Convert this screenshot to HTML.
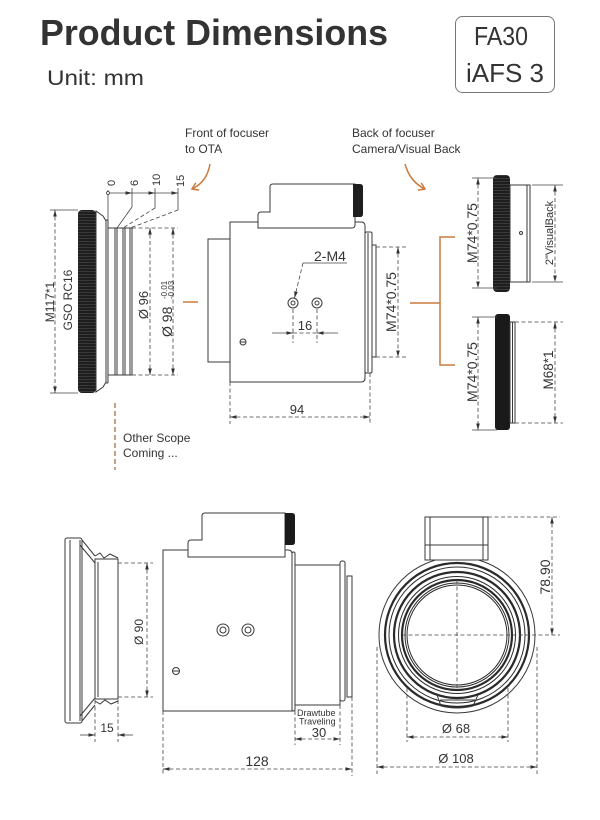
<!DOCTYPE html>
<html><head><meta charset="utf-8"><style>
html,body{margin:0;padding:0;background:#fff;}
svg{display:block;}
text{font-family:"Liberation Sans",sans-serif;fill:#333;}
.l{stroke:#3a3a3a;stroke-width:1;fill:none;}
.w{stroke:#3a3a3a;stroke-width:1;fill:#fff;}
.d{stroke:#444;stroke-width:0.8;fill:none;stroke-dasharray:4 2.5;}
.t{stroke:#444;stroke-width:0.8;fill:none;}
.o{stroke:#cc7a3e;stroke-width:1.5;fill:none;}
.th{stroke:#2a2a2a;fill:none;}
</style></head><body>
<svg width="600" height="820" viewBox="0 0 600 820" xmlns="http://www.w3.org/2000/svg">
<defs>
<marker id="ae" viewBox="-8 -3 9 6" markerWidth="9" markerHeight="6" refX="0" refY="0" orient="auto" markerUnits="userSpaceOnUse"><path d="M0,0 L-6.5,-1.8 L-6.5,1.8 Z" fill="#333"/></marker>
<marker id="as" viewBox="-1 -3 9 6" markerWidth="9" markerHeight="6" refX="0" refY="0" orient="auto" markerUnits="userSpaceOnUse"><path d="M0,0 L6.5,-1.8 L6.5,1.8 Z" fill="#333"/></marker>
<marker id="oa" viewBox="-8 -5 10 10" markerWidth="10" markerHeight="10" refX="0" refY="0" orient="auto" markerUnits="userSpaceOnUse"><path d="M-6,-4 L0,0 L-6,4" fill="none" stroke="#cc7a3e" stroke-width="1.5"/></marker>
<pattern id="kn" patternUnits="userSpaceOnUse" width="6" height="3"><rect width="6" height="3" fill="#1e1e1e"/><line x1="0" y1="1.5" x2="6" y2="1.5" stroke="#4a4a4a" stroke-width="0.6"/></pattern>
</defs>

<!-- Header -->
<text x="40" y="45" font-size="36" font-weight="bold" fill="#3d3d3d" textLength="348" lengthAdjust="spacingAndGlyphs">Product Dimensions</text>
<text x="47" y="85" font-size="21" fill="#555" textLength="97" lengthAdjust="spacingAndGlyphs">Unit: mm</text>
<rect x="455.5" y="16.5" width="99" height="76" rx="7" fill="none" stroke="#777"/>
<text x="474" y="45" font-size="26" textLength="54" lengthAdjust="spacingAndGlyphs">FA30</text>
<text x="505" y="82" font-size="26" text-anchor="middle">iAFS 3</text>

<!-- Captions -->
<text x="185" y="137" font-size="12" fill="#555">Front of focuser</text>
<text x="185" y="153" font-size="12" fill="#555">to OTA</text>
<text x="352" y="137" font-size="12" fill="#555">Back of focuser</text>
<text x="352" y="153" font-size="12" fill="#555">Camera/Visual Back</text>
<path class="o" d="M210,164 Q207,182 192,189" marker-end="url(#oa)"/>
<path class="o" d="M405,164 Q410,182 425,189" marker-end="url(#oa)"/>

<!-- ===== Top-left flange ===== -->
<rect x="78" y="210" width="18" height="183" rx="4" fill="url(#kn)"/>
<path class="w" d="M96,211 L103,216 L106,221 V382 L103,387 L96,392 Z"/>
<line class="l" x1="108" y1="220" x2="108" y2="383"/>
<line class="l" x1="106" y1="220" x2="108" y2="220"/>
<line class="l" x1="106" y1="383" x2="108" y2="383"/>
<rect class="w" x="108" y="228" width="24" height="147"/>
<line class="l" x1="115" y1="228" x2="115" y2="375"/>
<line class="l" x1="117" y1="228" x2="117" y2="375"/>
<line class="l" x1="123" y1="228" x2="123" y2="375"/>
<line class="l" x1="125" y1="228" x2="125" y2="375"/>
<line class="l" x1="130" y1="228" x2="130" y2="375"/>

<!-- M117 dim -->
<line class="t" x1="50" y1="210" x2="78" y2="210"/>
<line class="t" x1="50" y1="393" x2="78" y2="393"/>
<line class="d" x1="55" y1="210" x2="55" y2="393" marker-start="url(#as)" marker-end="url(#ae)"/>
<text transform="translate(54,302) rotate(-90)" text-anchor="middle" font-size="12">M117*1</text>
<text transform="translate(72,300) rotate(-90)" text-anchor="middle" font-size="12">GSO RC16</text>

<!-- 0/6/10/15 dim -->
<line class="t" x1="108" y1="190" x2="108" y2="220"/>
<circle cx="108" cy="193" r="1.5" fill="#fff" stroke="#333" stroke-width="0.8"/>
<line class="t" x1="132" y1="188" x2="132" y2="207"/>
<line class="t" x1="155" y1="188" x2="155" y2="208"/>
<line class="t" x1="178" y1="188" x2="178" y2="210"/>
<line class="t" x1="110" y1="193" x2="132" y2="193" marker-end="url(#ae)"/>
<line class="t" x1="132" y1="193" x2="155" y2="193" marker-end="url(#ae)"/>
<line class="t" x1="155" y1="193" x2="178" y2="193" marker-end="url(#ae)"/>
<line class="t" x1="132" y1="207" x2="117" y2="228"/>
<line class="d" x1="155" y1="208" x2="123" y2="228"/>
<line class="d" x1="178" y1="210" x2="130" y2="228"/>
<text transform="translate(115,186) rotate(-90)" font-size="11">0</text>
<text transform="translate(138,186) rotate(-90)" font-size="11">6</text>
<text transform="translate(160,186) rotate(-90)" font-size="11">10</text>
<text transform="translate(184,187) rotate(-90)" font-size="11">15</text>

<!-- Ø96 / Ø98 -->
<line class="d" x1="132" y1="228" x2="178" y2="228"/>
<line class="d" x1="132" y1="375" x2="178" y2="375"/>
<line class="d" x1="150" y1="228" x2="150" y2="375" marker-start="url(#as)" marker-end="url(#ae)"/>
<line class="d" x1="173" y1="228" x2="173" y2="375" marker-start="url(#as)" marker-end="url(#ae)"/>
<text transform="translate(148,305) rotate(-90)" text-anchor="middle" font-size="13">Ø 96</text>
<g transform="translate(172,337) rotate(-90)">
<text x="0" y="0" font-size="14">Ø 98</text>
<text x="38" y="-5" font-size="8">-0.01</text>
<text x="38" y="2" font-size="8">-0.03</text>
</g>
<line class="o" x1="183" y1="302" x2="198" y2="302"/>

<!-- Other scope -->
<line x1="115" y1="403" x2="115" y2="470" stroke="#b8825a" stroke-width="1.5" stroke-dasharray="5 3"/>
<text x="123" y="442" font-size="12" fill="#666">Other Scope</text>
<text x="123" y="457" font-size="12" fill="#666">Coming ...</text>

<!-- ===== Top center body ===== -->
<rect class="w" x="208" y="239" width="22" height="123"/>
<path class="w" d="M230,222 H361 Q365,222 365,226 V378 Q365,382 361,382 H230 Z"/>
<path class="w" d="M258,228 V215 Q258,212 261,212 H270 V187 Q270,184 273,184 H355 V225 Q355,228 352,228 Z"/>
<path d="M353,184 H360 Q363,184 363,187 V214 Q363,217 360,217 H353 Z" fill="#1e1e1e"/>
<rect class="w" x="365" y="232" width="7" height="141" rx="1.5"/>
<line class="l" x1="368" y1="233" x2="368" y2="372"/>
<rect class="w" x="372" y="245" width="4" height="112"/>

<line class="d" x1="376" y1="247" x2="408" y2="247"/>
<line class="d" x1="376" y1="357" x2="408" y2="357"/>
<line class="d" x1="398" y1="247" x2="398" y2="357" marker-start="url(#as)" marker-end="url(#ae)"/>
<text transform="translate(396,302) rotate(-90)" text-anchor="middle" font-size="14">M74*0.75</text>

<!-- holes -->
<circle class="l" cx="293" cy="303" r="5"/><circle class="l" cx="293" cy="303" r="2"/>
<circle class="l" cx="317" cy="303" r="5"/><circle class="l" cx="317" cy="303" r="2"/>
<line class="t" x1="303" y1="263" x2="347" y2="263"/>
<line class="d" x1="303" y1="263" x2="294.5" y2="298" marker-end="url(#ae)"/>
<text x="314" y="261" font-size="14">2-M4</text>
<line class="d" x1="293" y1="309" x2="293" y2="343"/>
<line class="d" x1="317" y1="309" x2="317" y2="343"/>
<line class="t" x1="272" y1="333" x2="293" y2="333" marker-end="url(#ae)"/>
<line class="t" x1="338" y1="333" x2="317" y2="333" marker-end="url(#ae)"/>
<line class="d" x1="293" y1="333" x2="317" y2="333"/>
<text x="305" y="330" font-size="13" text-anchor="middle">16</text>
<circle class="l" cx="243" cy="342" r="3"/>
<line class="l" x1="240.5" y1="342" x2="245.5" y2="342"/>

<!-- 94 -->
<line class="d" x1="230" y1="382" x2="230" y2="424"/>
<line class="d" x1="370" y1="373" x2="370" y2="424"/>
<line class="d" x1="230" y1="417" x2="370" y2="417" marker-start="url(#as)" marker-end="url(#ae)"/>
<text x="297" y="414" font-size="13" text-anchor="middle">94</text>

<!-- orange bracket -->
<line class="o" x1="410" y1="303" x2="440" y2="303"/>
<path class="o" d="M455,237 H440 V365 H455"/>

<!-- ===== Right parts ===== -->
<rect x="493" y="175" width="17" height="117" rx="4" fill="url(#kn)"/>
<rect class="w" x="510" y="185" width="20" height="97"/>
<line class="l" x1="527" y1="185" x2="527" y2="282"/>
<circle class="l" cx="521" cy="233" r="1.5"/>
<line class="t" x1="472" y1="178" x2="497" y2="178"/>
<line class="t" x1="472" y1="288" x2="497" y2="288"/>
<line class="d" x1="478" y1="178" x2="478" y2="288" marker-start="url(#as)" marker-end="url(#ae)"/>
<text transform="translate(477,233) rotate(-90)" text-anchor="middle" font-size="14">M74*0.75</text>
<line class="t" x1="532" y1="185" x2="563" y2="185"/>
<line class="t" x1="532" y1="282" x2="563" y2="282"/>
<line class="d" x1="555" y1="185" x2="555" y2="282" marker-start="url(#as)" marker-end="url(#ae)"/>
<text transform="translate(553,233) rotate(-90)" text-anchor="middle" font-size="11">2"VisualBack</text>

<rect x="495" y="314" width="15" height="116" rx="3" fill="#1a1a1a"/>
<rect class="w" x="510" y="322" width="5" height="101"/>
<line class="l" x1="512.5" y1="322" x2="512.5" y2="423"/>
<line class="t" x1="472" y1="317" x2="497" y2="317"/>
<line class="t" x1="472" y1="430" x2="497" y2="430"/>
<line class="d" x1="478" y1="317" x2="478" y2="430" marker-start="url(#as)" marker-end="url(#ae)"/>
<text transform="translate(477,372) rotate(-90)" text-anchor="middle" font-size="14">M74*0.75</text>
<line class="d" x1="515" y1="322" x2="563" y2="322"/>
<line class="d" x1="515" y1="423" x2="563" y2="423"/>
<line class="d" x1="555" y1="322" x2="555" y2="423" marker-start="url(#as)" marker-end="url(#ae)"/>
<text transform="translate(553,370) rotate(-90)" text-anchor="middle" font-size="13.5">M68*1</text>

<!-- ===== Bottom-left side view ===== -->
<rect class="w" x="65" y="538" width="17" height="185" rx="2"/>
<line class="l" x1="70" y1="540" x2="70" y2="721"/>
<line class="l" x1="80" y1="540" x2="80" y2="721"/>
<path class="l" d="M82,540 L95,556"/>
<path class="l" d="M80,545 L95,563"/>
<path class="l" d="M82,721 L95,705"/>
<path class="l" d="M80,716 L95,698"/>
<rect class="w" x="95" y="559" width="23" height="140"/>
<line class="l" x1="98" y1="562" x2="98" y2="697"/>
<path class="l" d="M95,556 L100,553 L104,558 L110,554 L118,558"/>
<path class="l" d="M95,701 L100,704 L105,700 L111,704 L118,701"/>

<line class="d" x1="118" y1="563" x2="153" y2="563"/>
<line class="d" x1="118" y1="697" x2="153" y2="697"/>
<line class="d" x1="147" y1="563" x2="147" y2="697" marker-start="url(#as)" marker-end="url(#ae)"/>
<text transform="translate(143,632) rotate(-90)" text-anchor="middle" font-size="12">Ø 90</text>

<line class="d" x1="95" y1="700" x2="95" y2="742"/>
<line class="d" x1="118" y1="700" x2="118" y2="742"/>
<line class="t" x1="80" y1="735" x2="95" y2="735" marker-end="url(#ae)"/>
<line class="t" x1="133" y1="735" x2="118" y2="735" marker-end="url(#ae)"/>
<text x="107" y="732" font-size="12" text-anchor="middle">15</text>

<path class="w" d="M163,550 H288 Q292,550 292,554 V711 H163 Z"/>
<rect class="w" x="292" y="552" width="3" height="159" rx="1.5"/>
<path class="w" d="M188,557 V543 Q188,540 191,540 H202 V516 Q202,513 205,513 H285 V557 Z"/>
<path d="M285,513 H292 Q295,513 295,516 V542 Q295,545 292,545 H285 Z" fill="#1a1a1a"/>
<circle class="l" cx="223" cy="630" r="6"/><circle class="l" cx="223" cy="630" r="3"/>
<circle class="l" cx="248" cy="630" r="6"/><circle class="l" cx="248" cy="630" r="3"/>
<circle class="l" cx="176" cy="671" r="3.5"/>
<line class="l" x1="173" y1="671" x2="179" y2="671"/>

<rect class="w" x="295" y="565" width="45" height="140"/>
<rect class="w" x="340" y="561" width="5" height="140" rx="2"/>
<rect class="w" x="347" y="576" width="5" height="121"/>

<text x="297" y="716" font-size="9" fill="#444">Drawtube</text>
<text x="299" y="724.5" font-size="9" fill="#444">Traveling</text>
<line class="d" x1="295" y1="711" x2="295" y2="745"/>
<line class="d" x1="340" y1="705" x2="340" y2="745"/>
<line class="d" x1="295" y1="739" x2="340" y2="739" marker-start="url(#as)" marker-end="url(#ae)"/>
<text x="319" y="737" font-size="13" text-anchor="middle">30</text>

<line class="d" x1="163" y1="711" x2="163" y2="776"/>
<line class="d" x1="352" y1="697" x2="352" y2="776"/>
<line class="d" x1="163" y1="769" x2="352" y2="769" marker-start="url(#as)" marker-end="url(#ae)"/>
<text x="257" y="766" font-size="14" text-anchor="middle">128</text>

<!-- ===== Bottom-right end view ===== -->
<circle class="w" cx="457" cy="635" r="78"/>
<rect class="w" x="425" y="517" width="63" height="43"/>
<line class="l" x1="430" y1="517" x2="430" y2="560"/>
<line class="l" x1="483" y1="517" x2="483" y2="560"/>
<line class="l" x1="425" y1="545" x2="488" y2="545"/>
<circle class="th" cx="457" cy="635" r="72" stroke-width="2.2"/>
<circle class="th" cx="457" cy="635" r="68" stroke-width="1"/>
<circle class="th" cx="457" cy="635" r="63" stroke-width="2.2"/>
<circle class="th" cx="457" cy="635" r="58.5" stroke-width="1"/>
<circle class="th" cx="457" cy="635" r="55" stroke-width="2.2"/>
<circle class="th" cx="457" cy="635" r="52" stroke-width="1"/>
<circle class="th" cx="457" cy="635" r="50" stroke-width="1"/>
<path class="l" d="M437,695 L441,706 Q457,710 473,706 L478,695"/>
<line class="l" x1="440" y1="700" x2="475" y2="700"/>

<line class="d" x1="402" y1="635" x2="560" y2="635"/>
<line class="d" x1="457" y1="580" x2="457" y2="690"/>
<line class="d" x1="488" y1="517" x2="560" y2="517"/>
<line class="d" x1="552" y1="517" x2="552" y2="635" marker-start="url(#as)" marker-end="url(#ae)"/>
<text transform="translate(550,577) rotate(-90)" text-anchor="middle" font-size="14">78.90</text>

<line class="d" x1="407" y1="688" x2="407" y2="742"/>
<line class="d" x1="508" y1="688" x2="508" y2="742"/>
<line class="d" x1="407" y1="737" x2="508" y2="737" marker-start="url(#as)" marker-end="url(#ae)"/>
<text x="456" y="733" font-size="13" text-anchor="middle">Ø 68</text>

<line class="d" x1="377" y1="647" x2="377" y2="774"/>
<line class="d" x1="537" y1="647" x2="537" y2="774"/>
<line class="d" x1="377" y1="767" x2="537" y2="767" marker-start="url(#as)" marker-end="url(#ae)"/>
<text x="456" y="763" font-size="13" text-anchor="middle">Ø 108</text>
</svg>
</body></html>
